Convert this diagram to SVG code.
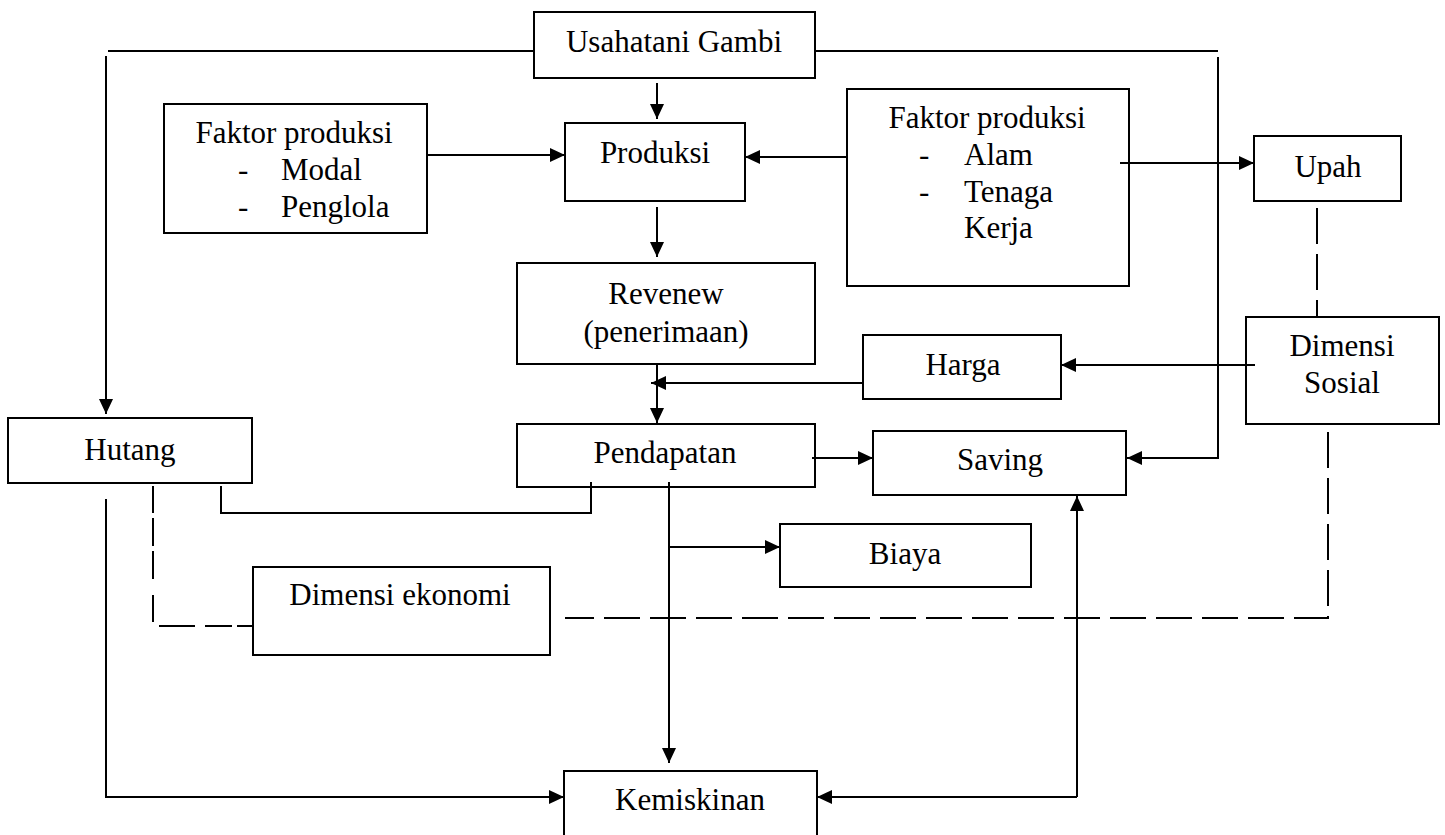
<svg xmlns="http://www.w3.org/2000/svg" width="1445" height="835" viewBox="0 0 1445 835">
<defs>
<marker id="ah" markerWidth="16" markerHeight="14" refX="15" refY="7" orient="auto" markerUnits="userSpaceOnUse">
<path d="M0,0 L15,7 L0,14 z" fill="#000"/>
</marker>
<style>
.box{fill:#fff;stroke:#000;stroke-width:2}
.t{font-size:31px;fill:#000}
.c{text-anchor:middle}
.ln{fill:none;stroke:#000;stroke-width:2}
.ar{fill:none;stroke:#000;stroke-width:2;marker-end:url(#ah)}
.ds{fill:none;stroke:#000;stroke-width:2;stroke-dasharray:36 10}
</style>
</defs>
<rect width="1445" height="835" fill="#fff"/>
<g font-family="'Liberation Serif', 'DejaVu Serif', serif">
<g id="usahatani"><rect class="box" x="534" y="12" width="281" height="66"/><text class="t c" x="674" y="52">Usahatani Gambi</text></g>
<g id="faktor-kiri"><rect class="box" x="164" y="104" width="263" height="129"/>
<text class="t c" x="294" y="143">Faktor produksi</text>
<text class="t" x="238" y="180">-</text><text class="t" x="281" y="180">Modal</text>
<text class="t" x="238" y="217">-</text><text class="t" x="281" y="217">Penglola</text></g>
<g id="produksi"><rect class="box" x="565" y="123" width="180" height="78"/><text class="t c" x="655" y="163">Produksi</text></g>
<g id="faktor-kanan"><rect class="box" x="847" y="89" width="282" height="197"/>
<text class="t c" x="987" y="128">Faktor produksi</text>
<text class="t" x="919" y="165">-</text><text class="t" x="964" y="165">Alam</text>
<text class="t" x="919" y="202">-</text><text class="t" x="964" y="202">Tenaga</text>
<text class="t" x="964" y="238">Kerja</text></g>
<g id="upah"><rect class="box" x="1254" y="136" width="147" height="65"/><text class="t c" x="1328" y="177">Upah</text></g>
<g id="revenew"><rect class="box" x="517" y="263" width="298" height="101"/><text class="t c" x="666" y="304">Revenew</text><text class="t c" x="666" y="342">(penerimaan)</text></g>
<g id="harga"><rect class="box" x="863" y="335" width="198" height="64"/><text class="t c" x="963" y="375">Harga</text></g>
<g id="dimensi-sosial"><rect class="box" x="1246" y="317" width="193" height="107"/><text class="t c" x="1342" y="356">Dimensi</text><text class="t c" x="1342" y="393">Sosial</text></g>
<g id="hutang"><rect class="box" x="8" y="418" width="244" height="65"/><text class="t c" x="130" y="460">Hutang</text></g>
<g id="pendapatan"><rect class="box" x="517" y="424" width="298" height="63"/><text class="t c" x="665" y="463">Pendapatan</text></g>
<g id="saving"><rect class="box" x="873" y="431" width="253" height="64"/><text class="t c" x="1000" y="470">Saving</text></g>
<g id="biaya"><rect class="box" x="780" y="524" width="251" height="63"/><text class="t c" x="905" y="564">Biaya</text></g>
<g id="dimensi-ekonomi"><rect class="box" x="253" y="567" width="297" height="88"/><text class="t c" x="400" y="605">Dimensi ekonomi</text></g>
<g id="kemiskinan"><rect class="box" x="564" y="771" width="253" height="66"/><text class="t c" x="690" y="810">Kemiskinan</text></g>
</g>
<g id="connectors">
<line class="ln" x1="108" y1="51" x2="534" y2="51"/>
<line class="ar" x1="106" y1="56" x2="106" y2="414"/>
<line class="ln" x1="815" y1="51" x2="1218" y2="51"/>
<polyline class="ar" points="1218,57 1218,458 1127,458"/>
<line class="ar" x1="657" y1="83" x2="657" y2="119"/>
<line class="ar" x1="427" y1="155" x2="565" y2="155"/>
<line class="ar" x1="847" y1="157" x2="745" y2="157"/>
<line class="ar" x1="1120" y1="163" x2="1254" y2="163"/>
<line class="ar" x1="657" y1="207" x2="657" y2="257"/>
<line class="ar" x1="657" y1="364" x2="657" y2="423"/>
<line class="ar" x1="863" y1="383" x2="651" y2="383"/>
<line class="ar" x1="1255" y1="365" x2="1061" y2="365"/>
<line class="ds" x1="1317" y1="208" x2="1317" y2="317"/>
<polyline class="ds" points="1328,432 1328,618 565,618"/>
<line class="ar" x1="812" y1="458" x2="873" y2="458"/>
<polyline class="ln" points="221,486 221,513 591,513 591,482"/>
<line class="ar" x1="669" y1="482" x2="669" y2="763"/>
<line class="ar" x1="669" y1="547" x2="780" y2="547"/>
<polyline class="ar" points="106,499 106,797 564,797"/>
<polyline class="ds" points="153,486 153,626 253,626" style="stroke-dasharray:27 5 28 5 28 16 27 10 36 10"/>
<line class="ar" x1="1077" y1="797" x2="1077" y2="496"/>
<line class="ar" x1="1077" y1="797" x2="817" y2="797"/>
</g>
</svg>
